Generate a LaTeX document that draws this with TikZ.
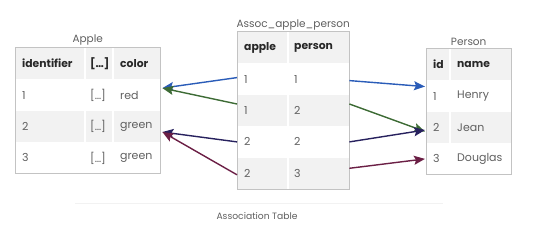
\documentclass[tikz,border=0pt]{standalone}
\usepackage{fontspec}
\setmainfont{Poppins}
\usepackage{tikz}
\usetikzlibrary{arrows.meta, positioning, calc}
\usepackage{xcolor}
\definecolor{colgrid}{RGB}{195,195,195}
\definecolor{colrow}{RGB}{242,242,242}
\definecolor{coltext}{RGB}{95,95,95}
\definecolor{colhead}{RGB}{40,40,40}
\definecolor{col1}{RGB}{42,92,184}
\definecolor{col2}{RGB}{61,107,53}
\definecolor{col3}{RGB}{39,33,94}
\definecolor{col4}{RGB}{107,31,69}

\begin{document}
\begin{tikzpicture}[
  x=1pt, y=-1pt,
  row/.style={rectangle, inner sep=0pt, minimum height=31pt, anchor=north west},
  zebra/.style={fill=colrow},
  cell/.style={inner sep=0pt, font=\fontsize{11}{13}\selectfont, text=coltext},
  head/.style={cell, font=\fontsize{10.8}{13}\selectfont\bfseries, text=colhead},
  title/.style={inner sep=0pt, font=\fontsize{10.5}{12}\selectfont, text=coltext},
  frame/.style={draw=colgrid, line width=1pt},
  split/.style={draw=white, line width=1.5pt},
  link/.style={-{Stealth[length=11pt, width=9pt, inset=2pt]}, line width=1.4pt}
]
\useasboundingbox (0,0) rectangle (540,227);

% Apple table
\node[row, zebra, minimum width=145pt] (a0) at (15,48) {};
\node[row, minimum width=145pt, below=0pt of a0] (a1) {};
\node[row, zebra, minimum width=145pt, below=0pt of a1] (a2) {};
\node[row, minimum width=145pt, below=0pt of a2] (a3) {};
\draw[split] ([xshift=70pt]a0.north west) -- ([xshift=70pt]a3.south west);
\draw[split] ([xshift=98pt]a0.north west) -- ([xshift=98pt]a3.south west);
\draw[frame] (a0.north west) rectangle (a3.south east);
\node[title, above=3pt of a0] (atitle) {Apple};
\node[head, right=7pt of a0.west] (a0id) {identifier};
\node[head, right=75pt of a0.west] (a0etc) {[…]};
\node[head, right=105pt of a0.west] (a0col) {color};
\node[cell, right=7pt of a1.west] (a1id) {1};
\node[cell, right=75pt of a1.west] (a1etc) {[…]};
\node[cell, right=105pt of a1.west] (a1col) {red};
\node[cell, right=7pt of a2.west] (a2id) {2};
\node[cell, right=75pt of a2.west] (a2etc) {[…]};
\node[cell, right=105pt of a2.west] (a2col) {green};
\node[cell, right=7pt of a3.west] (a3id) {3};
\node[cell, right=75pt of a3.west] (a3etc) {[…]};
\node[cell, right=105pt of a3.west] (a3col) {green};

% Association table
\node[row, zebra, minimum width=112pt] (s0) at (237,32) {};
\node[row, minimum width=112pt, below=0pt of s0] (s1) {};
\node[row, zebra, minimum width=112pt, below=0pt of s1] (s2) {};
\node[row, minimum width=112pt, below=0pt of s2] (s3) {};
\node[row, zebra, minimum width=112pt, below=0pt of s3] (s4) {};
\draw[split] ([xshift=51pt]s0.north west) -- ([xshift=51pt]s4.south west);
\draw[frame] (s0.north west) rectangle (s4.south east);
\node[title, above=2pt of s0] (stitle) {Assoc\_apple\_person};
\node[head, right=7pt of s0.west] (s0a) {apple};
\node[head, right=57pt of s0.west] (s0p) {person};
\node[cell, right=7pt of s1.west] (s1a) {1};
\node[cell, right=57pt of s1.west] (s1p) {1};
\node[cell, right=7pt of s2.west] (s2a) {1};
\node[cell, right=57pt of s2.west] (s2p) {2};
\node[cell, right=7pt of s3.west] (s3a) {2};
\node[cell, right=57pt of s3.west] (s3p) {2};
\node[cell, right=7pt of s4.west] (s4a) {2};
\node[cell, right=57pt of s4.west] (s4p) {3};

% Person table
\node[row, zebra, minimum width=85pt] (p0) at (426,49) {};
\node[row, minimum width=85pt, below=0pt of p0] (p1) {};
\node[row, zebra, minimum width=85pt, below=0pt of p1] (p2) {};
\node[row, minimum width=85pt, below=0pt of p2] (p3) {};
\draw[split] ([xshift=24pt]p0.north west) -- ([xshift=24pt]p3.south west);
\draw[frame] (p0.north west) rectangle (p3.south east);
\node[title, above=3pt of p0] (ptitle) {Person};
\node[head, right=7pt of p0.west] (p0id) {id};
\node[head, right=31pt of p0.west] (p0nm) {name};
\node[cell, right=7pt of p1.west] (p1id) {1};
\node[cell, right=31pt of p1.west] (p1nm) {Henry};
\node[cell, right=7pt of p2.west] (p2id) {2};
\node[cell, right=31pt of p2.west] (p2nm) {Jean};
\node[cell, right=7pt of p3.west] (p3id) {3};
\node[cell, right=31pt of p3.west] (p3nm) {Douglas};

% links to Apple
\draw[link, col1] ([yshift=1.5pt]s1.west) -- ([xshift=2pt, yshift=7pt]a1.east);
\draw[link, col2] ([yshift=6.5pt]s2.west) -- ([xshift=2pt, yshift=7pt]a1.east);
\draw[link, col3] (s3.west) -- ([xshift=2pt, yshift=-5.5pt]a2.east);
\draw[link, col4] ([yshift=-1.5pt]s4.west) -- ([xshift=2pt, yshift=-5.5pt]a2.east);

% links to Person
\draw[link, col1] ([yshift=-1.5pt]s1.east) -- ([xshift=-1pt, yshift=9.5pt]p1.west);
\draw[link, col2] ([yshift=6.5pt]s2.east) -- ([xshift=-1pt, yshift=-4pt]p2.west);
\draw[link, col3] (s3.east) -- ([xshift=-1pt, yshift=-2.5pt]p2.west);
\draw[link, col4] ([yshift=5pt]s4.east) -- ([xshift=-1pt]p3.west);

% caption
\draw[colrow, line width=1pt] (75,203) coordinate (rl) -- (443,203) coordinate (rr);
\node[title, font=\fontsize{9.2}{11}\selectfont] (caption) at (257,216) {Association Table};
\end{tikzpicture}
\end{document}
